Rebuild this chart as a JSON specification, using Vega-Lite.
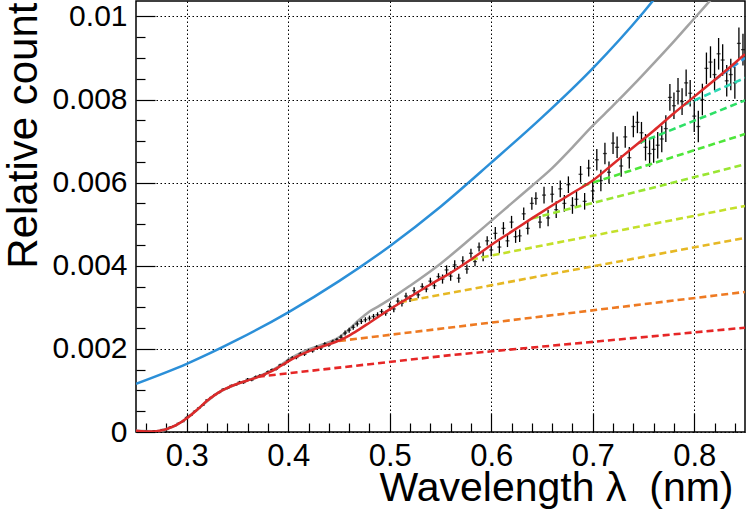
{
  "$schema": "https://vega.github.io/schema/vega-lite/v6.json",
  "width": 609,
  "height": 431,
  "autosize": {"type": "none"},
  "padding": {"left": 136, "top": 1, "right": 2, "bottom": 80},
  "background": "white",
  "config": {
    "view": {"stroke": "black", "strokeWidth": 1.5},
    "font": "Liberation Sans",
    "axis": {"labelFont": "Liberation Sans", "titleFont": "Liberation Sans", "labelColor": "black", "titleColor": "black", "tickColor": "black", "domain": false}
  },
  "datasets": {
    "curves": [
      {"s": "blue", "w": 0.25, "v": 0.00116}, {"s": "blue", "w": 0.30, "v": 0.00164}, {"s": "blue", "w": 0.35, "v": 0.00222},
      {"s": "blue", "w": 0.40, "v": 0.00288}, {"s": "blue", "w": 0.45, "v": 0.00363}, {"s": "blue", "w": 0.50, "v": 0.00447},
      {"s": "blue", "w": 0.55, "v": 0.00542}, {"s": "blue", "w": 0.60, "v": 0.00648}, {"s": "blue", "w": 0.65, "v": 0.00757},
      {"s": "blue", "w": 0.70, "v": 0.00875}, {"s": "blue", "w": 0.75, "v": 0.0101}, {"s": "blue", "w": 0.77, "v": 0.0107},
      {"s": "gray", "w": 0.25, "v": 0.00003}, {"s": "gray", "w": 0.27, "v": 0.00002}, {"s": "gray", "w": 0.29, "v": 0.00017},
      {"s": "gray", "w": 0.31, "v": 0.00053}, {"s": "gray", "w": 0.33, "v": 0.00093}, {"s": "gray", "w": 0.35, "v": 0.00116},
      {"s": "gray", "w": 0.37, "v": 0.00133}, {"s": "gray", "w": 0.39, "v": 0.00157}, {"s": "gray", "w": 0.40, "v": 0.00174},
      {"s": "gray", "w": 0.42, "v": 0.00199}, {"s": "gray", "w": 0.44, "v": 0.00216}, {"s": "gray", "w": 0.45, "v": 0.00228},
      {"s": "gray", "w": 0.46, "v": 0.00247}, {"s": "gray", "w": 0.47, "v": 0.0027}, {"s": "gray", "w": 0.48, "v": 0.0029},
      {"s": "gray", "w": 0.49, "v": 0.00304}, {"s": "gray", "w": 0.50, "v": 0.00319}, {"s": "gray", "w": 0.52, "v": 0.00352},
      {"s": "gray", "w": 0.55, "v": 0.00405}, {"s": "gray", "w": 0.58, "v": 0.00466}, {"s": "gray", "w": 0.60, "v": 0.00508},
      {"s": "gray", "w": 0.62, "v": 0.0055}, {"s": "gray", "w": 0.64, "v": 0.00592}, {"s": "gray", "w": 0.66, "v": 0.00635},
      {"s": "gray", "w": 0.68, "v": 0.00685}, {"s": "gray", "w": 0.70, "v": 0.00737}, {"s": "gray", "w": 0.72, "v": 0.00785},
      {"s": "gray", "w": 0.74, "v": 0.00835}, {"s": "gray", "w": 0.76, "v": 0.00887}, {"s": "gray", "w": 0.78, "v": 0.0094},
      {"s": "gray", "w": 0.80, "v": 0.00995}, {"s": "gray", "w": 0.82, "v": 0.0105}
    ],
    "fit": [
      {"w": 0.25, "v": 0.00003}, {"w": 0.255, "v": 0.00002}, {"w": 0.26, "v": 0.00001}, {"w": 0.265, "v": 0.000012},
      {"w": 0.27, "v": 0.00002}, {"w": 0.28, "v": 0.00007}, {"w": 0.29, "v": 0.00017}, {"w": 0.30, "v": 0.00033},
      {"w": 0.31, "v": 0.00053}, {"w": 0.32, "v": 0.00075}, {"w": 0.33, "v": 0.00093}, {"w": 0.34, "v": 0.00106},
      {"w": 0.35, "v": 0.00116}, {"w": 0.36, "v": 0.00124}, {"w": 0.37, "v": 0.00132}, {"w": 0.38, "v": 0.00142},
      {"w": 0.39, "v": 0.00155}, {"w": 0.40, "v": 0.0017}, {"w": 0.41, "v": 0.00183}, {"w": 0.42, "v": 0.00194},
      {"w": 0.43, "v": 0.00203}, {"w": 0.44, "v": 0.00211}, {"w": 0.45, "v": 0.0022}, {"w": 0.46, "v": 0.00232},
      {"w": 0.47, "v": 0.00247}, {"w": 0.48, "v": 0.00263}, {"w": 0.49, "v": 0.00279}, {"w": 0.50, "v": 0.00295},
      {"w": 0.52, "v": 0.00325}, {"w": 0.54, "v": 0.00355}, {"w": 0.56, "v": 0.00383}, {"w": 0.58, "v": 0.00415},
      {"w": 0.60, "v": 0.0045}, {"w": 0.62, "v": 0.00482}, {"w": 0.64, "v": 0.00514}, {"w": 0.66, "v": 0.00545},
      {"w": 0.68, "v": 0.00575}, {"w": 0.70, "v": 0.00605}, {"w": 0.72, "v": 0.00645}, {"w": 0.74, "v": 0.00685},
      {"w": 0.76, "v": 0.00725}, {"w": 0.78, "v": 0.00767}, {"w": 0.80, "v": 0.00807}, {"w": 0.82, "v": 0.00847},
      {"w": 0.84, "v": 0.00888}, {"w": 0.85, "v": 0.00909}
    ],
    "components": [
      {"s": "d1", "w": 0.37, "v": 0.00133}, {"s": "d1", "w": 0.56, "v": 0.00185}, {"s": "d1", "w": 0.85, "v": 0.00251},
      {"s": "d2", "w": 0.45, "v": 0.00219}, {"s": "d2", "w": 0.85, "v": 0.00337},
      {"s": "d3", "w": 0.51, "v": 0.00312}, {"s": "d3", "w": 0.85, "v": 0.00467},
      {"s": "d4", "w": 0.58, "v": 0.00415}, {"s": "d4", "w": 0.85, "v": 0.00544},
      {"s": "d5", "w": 0.64, "v": 0.00514}, {"s": "d5", "w": 0.85, "v": 0.00644},
      {"s": "d6", "w": 0.69, "v": 0.00592}, {"s": "d6", "w": 0.85, "v": 0.00717},
      {"s": "d7", "w": 0.745, "v": 0.00695}, {"s": "d7", "w": 0.85, "v": 0.00798},
      {"s": "d8", "w": 0.79, "v": 0.00787}, {"s": "d8", "w": 0.85, "v": 0.00852},
      {"s": "d9", "w": 0.82, "v": 0.00847}, {"s": "d9", "w": 0.85, "v": 0.009}
    ],
    "measured": [
      {"w": 0.252, "v": 0.00003, "e": 0.000015}, {"w": 0.256, "v": 0.00001, "e": 0.000015}, {"w": 0.260, "v": 0.00002, "e": 0.000015},
      {"w": 0.264, "v": 0.00000, "e": 0.000015}, {"w": 0.268, "v": 0.00003, "e": 0.000015}, {"w": 0.272, "v": 0.00002, "e": 0.000015},
      {"w": 0.276, "v": 0.00006, "e": 0.000015}, {"w": 0.280, "v": 0.00006, "e": 0.000015}, {"w": 0.284, "v": 0.00012, "e": 0.000015},
      {"w": 0.288, "v": 0.00015, "e": 0.000015}, {"w": 0.292, "v": 0.00021, "e": 0.000015}, {"w": 0.296, "v": 0.00025, "e": 0.000015},
      {"w": 0.300, "v": 0.00035, "e": 0.00002}, {"w": 0.304, "v": 0.00040, "e": 0.00002}, {"w": 0.308, "v": 0.00050, "e": 0.00002},
      {"w": 0.312, "v": 0.00058, "e": 0.00002}, {"w": 0.316, "v": 0.00065, "e": 0.00002}, {"w": 0.320, "v": 0.00077, "e": 0.00002},
      {"w": 0.324, "v": 0.00083, "e": 0.00002}, {"w": 0.328, "v": 0.00090, "e": 0.00002}, {"w": 0.332, "v": 0.00095, "e": 0.00002},
      {"w": 0.336, "v": 0.00103, "e": 0.00002}, {"w": 0.340, "v": 0.00105, "e": 0.00002}, {"w": 0.344, "v": 0.00112, "e": 0.00002},
      {"w": 0.348, "v": 0.00113, "e": 0.00002}, {"w": 0.352, "v": 0.00120, "e": 0.00003}, {"w": 0.356, "v": 0.00119, "e": 0.00003},
      {"w": 0.360, "v": 0.00127, "e": 0.00003}, {"w": 0.364, "v": 0.00125, "e": 0.00003}, {"w": 0.368, "v": 0.00133, "e": 0.00003},
      {"w": 0.372, "v": 0.00136, "e": 0.00003}, {"w": 0.376, "v": 0.00137, "e": 0.00003}, {"w": 0.380, "v": 0.00145, "e": 0.00003},
      {"w": 0.384, "v": 0.00150, "e": 0.00003}, {"w": 0.388, "v": 0.00151, "e": 0.00003}, {"w": 0.392, "v": 0.00161, "e": 0.00003},
      {"w": 0.396, "v": 0.00163, "e": 0.00003}, {"w": 0.400, "v": 0.00172, "e": 0.00004}, {"w": 0.404, "v": 0.00178, "e": 0.00004},
      {"w": 0.408, "v": 0.00179, "e": 0.00004}, {"w": 0.412, "v": 0.00188, "e": 0.00004}, {"w": 0.416, "v": 0.00187, "e": 0.00004},
      {"w": 0.420, "v": 0.00196, "e": 0.00004}, {"w": 0.424, "v": 0.00195, "e": 0.00004}, {"w": 0.428, "v": 0.00205, "e": 0.00004},
      {"w": 0.432, "v": 0.00202, "e": 0.00004}, {"w": 0.436, "v": 0.00212, "e": 0.00004}, {"w": 0.440, "v": 0.00209, "e": 0.00004},
      {"w": 0.444, "v": 0.00218, "e": 0.00004}, {"w": 0.448, "v": 0.00222, "e": 0.00004}, {"w": 0.452, "v": 0.00228, "e": 0.00006},
      {"w": 0.456, "v": 0.00238, "e": 0.00006}, {"w": 0.460, "v": 0.00245, "e": 0.00006}, {"w": 0.464, "v": 0.00252, "e": 0.00006},
      {"w": 0.468, "v": 0.00260, "e": 0.00006}, {"w": 0.472, "v": 0.00266, "e": 0.00006}, {"w": 0.476, "v": 0.00270, "e": 0.00006},
      {"w": 0.480, "v": 0.00274, "e": 0.00006}, {"w": 0.484, "v": 0.00278, "e": 0.00006}, {"w": 0.488, "v": 0.00282, "e": 0.00006},
      {"w": 0.492, "v": 0.00290, "e": 0.00006}, {"w": 0.496, "v": 0.00286, "e": 0.00006}, {"w": 0.500, "v": 0.00302, "e": 0.00008},
      {"w": 0.504, "v": 0.00296, "e": 0.00008}, {"w": 0.508, "v": 0.00315, "e": 0.00008}, {"w": 0.512, "v": 0.00310, "e": 0.00008},
      {"w": 0.516, "v": 0.00327, "e": 0.00008}, {"w": 0.520, "v": 0.00321, "e": 0.00008}, {"w": 0.524, "v": 0.00340, "e": 0.00008},
      {"w": 0.528, "v": 0.00330, "e": 0.00008}, {"w": 0.532, "v": 0.00350, "e": 0.00008}, {"w": 0.536, "v": 0.00344, "e": 0.00008},
      {"w": 0.540, "v": 0.00363, "e": 0.00008}, {"w": 0.544, "v": 0.00352, "e": 0.00008}, {"w": 0.548, "v": 0.00374, "e": 0.00008},
      {"w": 0.552, "v": 0.00368, "e": 0.00011}, {"w": 0.556, "v": 0.00390, "e": 0.00011}, {"w": 0.560, "v": 0.00375, "e": 0.00011},
      {"w": 0.564, "v": 0.00402, "e": 0.00011}, {"w": 0.568, "v": 0.00370, "e": 0.00011}, {"w": 0.572, "v": 0.00412, "e": 0.00011},
      {"w": 0.576, "v": 0.00392, "e": 0.00011}, {"w": 0.580, "v": 0.00430, "e": 0.00011}, {"w": 0.584, "v": 0.00410, "e": 0.00011},
      {"w": 0.588, "v": 0.00445, "e": 0.00011}, {"w": 0.592, "v": 0.00422, "e": 0.00011}, {"w": 0.596, "v": 0.00460, "e": 0.00011},
      {"w": 0.600, "v": 0.00438, "e": 0.00015}, {"w": 0.604, "v": 0.00478, "e": 0.00015}, {"w": 0.608, "v": 0.00445, "e": 0.00015},
      {"w": 0.612, "v": 0.00490, "e": 0.00015}, {"w": 0.616, "v": 0.00460, "e": 0.00015}, {"w": 0.620, "v": 0.00505, "e": 0.00015},
      {"w": 0.624, "v": 0.00470, "e": 0.00015}, {"w": 0.628, "v": 0.00472, "e": 0.00015}, {"w": 0.632, "v": 0.00525, "e": 0.00015},
      {"w": 0.636, "v": 0.00490, "e": 0.00015}, {"w": 0.640, "v": 0.00550, "e": 0.00015}, {"w": 0.644, "v": 0.00562, "e": 0.00015},
      {"w": 0.648, "v": 0.00505, "e": 0.00015}, {"w": 0.652, "v": 0.00570, "e": 0.0002}, {"w": 0.656, "v": 0.00515, "e": 0.0002},
      {"w": 0.660, "v": 0.00572, "e": 0.0002}, {"w": 0.664, "v": 0.00535, "e": 0.0002}, {"w": 0.668, "v": 0.00585, "e": 0.0002},
      {"w": 0.672, "v": 0.00550, "e": 0.0002}, {"w": 0.676, "v": 0.00595, "e": 0.0002}, {"w": 0.680, "v": 0.00545, "e": 0.0002},
      {"w": 0.684, "v": 0.00560, "e": 0.0002}, {"w": 0.688, "v": 0.00620, "e": 0.0002}, {"w": 0.692, "v": 0.00555, "e": 0.0002},
      {"w": 0.696, "v": 0.00635, "e": 0.0002}, {"w": 0.700, "v": 0.00580, "e": 0.00026}, {"w": 0.704, "v": 0.00655, "e": 0.00026},
      {"w": 0.708, "v": 0.00605, "e": 0.00026}, {"w": 0.712, "v": 0.00670, "e": 0.00026}, {"w": 0.716, "v": 0.00625, "e": 0.00026},
      {"w": 0.720, "v": 0.00695, "e": 0.00026}, {"w": 0.724, "v": 0.00685, "e": 0.00026}, {"w": 0.728, "v": 0.00640, "e": 0.00026},
      {"w": 0.732, "v": 0.00710, "e": 0.00026}, {"w": 0.736, "v": 0.00660, "e": 0.00026}, {"w": 0.740, "v": 0.00735, "e": 0.00026},
      {"w": 0.744, "v": 0.00745, "e": 0.00026}, {"w": 0.748, "v": 0.00720, "e": 0.00026}, {"w": 0.752, "v": 0.00685, "e": 0.00032},
      {"w": 0.756, "v": 0.00670, "e": 0.00032}, {"w": 0.760, "v": 0.00680, "e": 0.00032}, {"w": 0.764, "v": 0.00690, "e": 0.00032},
      {"w": 0.768, "v": 0.00705, "e": 0.00032}, {"w": 0.772, "v": 0.00730, "e": 0.00032}, {"w": 0.776, "v": 0.00805, "e": 0.00032},
      {"w": 0.780, "v": 0.00785, "e": 0.00032}, {"w": 0.784, "v": 0.00820, "e": 0.00032}, {"w": 0.788, "v": 0.00795, "e": 0.00032},
      {"w": 0.792, "v": 0.00840, "e": 0.00032}, {"w": 0.796, "v": 0.00815, "e": 0.00032}, {"w": 0.800, "v": 0.00760, "e": 0.00038},
      {"w": 0.804, "v": 0.00735, "e": 0.00038}, {"w": 0.808, "v": 0.00800, "e": 0.00038}, {"w": 0.812, "v": 0.00875, "e": 0.00038},
      {"w": 0.816, "v": 0.00890, "e": 0.00038}, {"w": 0.820, "v": 0.00860, "e": 0.00038}, {"w": 0.824, "v": 0.00910, "e": 0.00038},
      {"w": 0.828, "v": 0.00895, "e": 0.00038}, {"w": 0.832, "v": 0.00845, "e": 0.00038}, {"w": 0.836, "v": 0.00860, "e": 0.00038},
      {"w": 0.840, "v": 0.00840, "e": 0.00038}, {"w": 0.844, "v": 0.00935, "e": 0.00038}, {"w": 0.848, "v": 0.00920, "e": 0.00038}
    ]
  },
  "resolve": {
    "scale": {"color": "independent"},
    "axis": {"x": "independent", "y": "independent"}
  },
  "layer": [
    {
      "data": {"name": "curves"},
      "mark": {"type": "line", "clip": true, "strokeWidth": 2.5, "interpolate": "monotone"},
      "encoding": {
        "x": {
          "field": "w", "type": "quantitative",
          "scale": {"domain": [0.25, 0.85], "nice": false, "zero": false},
          "axis": {
            "orient": "bottom", "values": [0.3, 0.4, 0.5, 0.6, 0.7, 0.8], "format": ".1f",
            "tickSize": -19, "tickWidth": 1.2, "labelPadding": 28, "labelFontSize": 31, "labelFlush": false,
            "grid": true, "gridColor": "black", "gridDash": [1.5, 2.5], "gridWidth": 1, "gridOpacity": 1,
            "title": "Wavelength λ\u00a0\u00a0(nm)", "titleFontSize": 41, "titleFontWeight": "normal",
            "titleAnchor": "end", "titleX": 597, "titleY": 68, "titleAlign": "right", "titleBaseline": "alphabetic"
          }
        },
        "y": {
          "field": "v", "type": "quantitative",
          "scale": {"domain": [0, 0.01037], "nice": false, "zero": true},
          "axis": {
            "orient": "left", "values": [0, 0.002, 0.004, 0.006, 0.008, 0.01], "format": "~g",
            "tickSize": -19, "tickWidth": 1.2, "labelPadding": 28, "labelFontSize": 30, "labelFlush": false,
            "grid": true, "gridColor": "black", "gridDash": [1.5, 2.5], "gridWidth": 1, "gridOpacity": 1,
            "title": "Relative count", "titleFontSize": 42, "titleFontWeight": "normal", "titleAngle": 270,
            "titleAnchor": "end", "titleX": -100, "titleY": 1, "titleAlign": "right", "titleBaseline": "alphabetic"
          }
        },
        "color": {"field": "s", "type": "nominal", "scale": {"domain": ["blue", "gray"], "range": ["#2b8fd8", "#a3a3a3"]}, "legend": null}
      }
    },
    {
      "data": {"name": "measured"},
      "mark": {"type": "errorbar", "ticks": false, "color": "black", "thickness": 1.3},
      "encoding": {
        "x": {"field": "w", "type": "quantitative", "scale": {"domain": [0.25, 0.85], "nice": false, "zero": false}, "axis": null},
        "y": {"field": "v", "type": "quantitative", "scale": {"domain": [0, 0.01037], "nice": false, "zero": true}, "axis": null},
        "yError": {"field": "e"}
      }
    },
    {
      "data": {"name": "measured"},
      "mark": {"type": "tick", "orient": "horizontal", "color": "black", "size": 4, "thickness": 1.3},
      "encoding": {
        "x": {"field": "w", "type": "quantitative", "scale": {"domain": [0.25, 0.85], "nice": false, "zero": false}, "axis": null},
        "y": {"field": "v", "type": "quantitative", "scale": {"domain": [0, 0.01037], "nice": false, "zero": true}, "axis": null}
      }
    },
    {
      "data": {"name": "components"},
      "mark": {"type": "line", "clip": true, "strokeWidth": 2.6, "strokeDash": [7, 4]},
      "encoding": {
        "x": {
          "field": "w", "type": "quantitative",
          "scale": {"domain": [0.25, 0.85], "nice": false, "zero": false},
          "axis": {
            "orient": "bottom", "labels": false, "grid": false, "title": null, "tickSize": -9, "tickWidth": 1.2,
            "values": [0.26, 0.28, 0.32, 0.34, 0.36, 0.38, 0.42, 0.44, 0.46, 0.48, 0.52, 0.54, 0.56, 0.58, 0.62, 0.64, 0.66, 0.68, 0.72, 0.74, 0.76, 0.78, 0.82, 0.84]
          }
        },
        "y": {
          "field": "v", "type": "quantitative",
          "scale": {"domain": [0, 0.01037], "nice": false, "zero": true},
          "axis": {
            "orient": "left", "labels": false, "grid": false, "title": null, "tickSize": -9, "tickWidth": 1.2,
            "values": [0.0005, 0.001, 0.0015, 0.0025, 0.003, 0.0035, 0.0045, 0.005, 0.0055, 0.0065, 0.007, 0.0075, 0.0085, 0.009, 0.0095]
          }
        },
        "color": {
          "field": "s", "type": "nominal", "legend": null,
          "scale": {
            "domain": ["d1", "d2", "d3", "d4", "d5", "d6", "d7", "d8", "d9"],
            "range": ["#e62626", "#ee7a22", "#e6b824", "#c4e02a", "#9ae632", "#4ee63a", "#2ee066", "#2ed8b4", "#2e98dc"]
          }
        }
      }
    },
    {
      "data": {"name": "fit"},
      "mark": {"type": "line", "clip": true, "strokeWidth": 2.5, "interpolate": "monotone", "color": "#dc2a2a"},
      "encoding": {
        "x": {"field": "w", "type": "quantitative", "scale": {"domain": [0.25, 0.85], "nice": false, "zero": false}, "axis": null},
        "y": {"field": "v", "type": "quantitative", "scale": {"domain": [0, 0.01037], "nice": false, "zero": true}, "axis": null}
      }
    }
  ]
}
